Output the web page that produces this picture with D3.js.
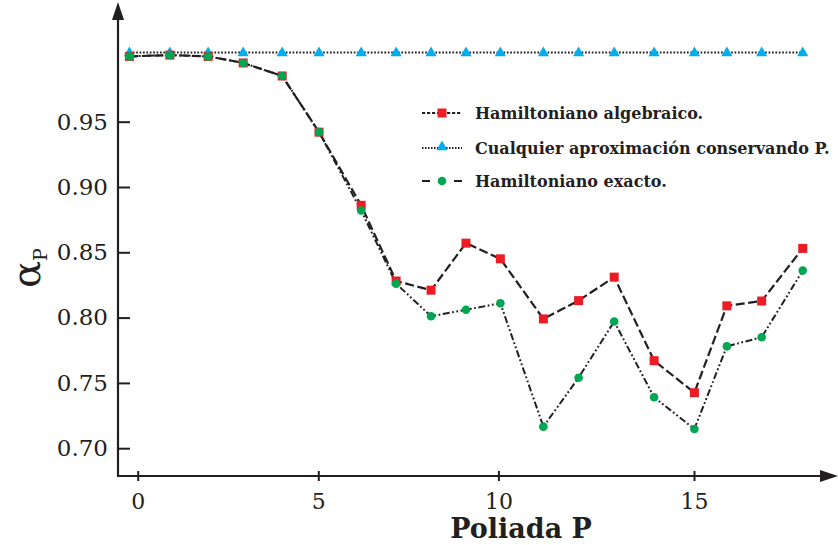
<!DOCTYPE html>
<html>
<head>
<meta charset="utf-8">
<script src="https://cdn.jsdelivr.net/npm/d3@7"></script>
<style>
  html, body { margin: 0; padding: 0; background: #fff; }
  svg { display: block; font-family: "DejaVu Serif", serif; }
</style>
</head>
<body>
<div id="chart"></div>
<script>
// Poliada P (positions)
const polyadP = [-0.23, 0.89, 1.95, 2.92, 4.0, 5.02, 6.19, 7.16, 8.13, 9.10, 10.05,
                 11.15, 12.05, 12.96, 13.98, 15.01, 15.84, 16.73, 17.78];
const alphaAlgebraic = [1.000, 1.001, 1.000, 0.995, 0.985, 0.942, 0.886, 0.828, 0.821, 0.857,
                        0.845, 0.799, 0.813, 0.831, 0.767, 0.7425, 0.809, 0.8127, 0.853];
const alphaConserving = polyadP.map(() => 1.003);
const alphaExact = [1.000, 1.001, 1.000, 0.995, 0.985, 0.942, 0.882, 0.826, 0.801, 0.806,
                    0.811, 0.7165, 0.754, 0.797, 0.739, 0.7147, 0.778, 0.785, 0.836];
const xTicks = [0, 5, 10, 15];
const yTicks = [0.70, 0.75, 0.80, 0.85, 0.90, 0.95];
const legendLabels = ['Hamiltoniano algebraico.', 'Cualquier aproximación conservando P.', 'Hamiltoniano exacto.'];

const W = 838, H = 545;
const ink = '#231f20';
const RED = '#ed1c24', BLUE = '#00aeef', GREEN = '#00a651';

const svg = d3.select('#chart').append('svg')
  .attr('width', W).attr('height', H)
  .attr('viewBox', `0 0 ${W} ${H}`);

// the printed axis is not quite uniform, so the scale follows its ticks
const x = d3.scaleLinear().domain([0, 5, 10, 15]).range([137.7, 318.3, 498.4, 694]);
const y = d3.scaleLinear().domain([0.70, 0.95]).range([448.2, 121.7]);

const axisX0 = 118, axisY0 = 476;

// axes
const gx = svg.append('g').attr('transform', `translate(0,${axisY0})`)
  .call(d3.axisBottom(x).tickValues(xTicks).tickSize(5).tickPadding(12).tickFormat(d3.format('d')));
gx.select('.domain').remove();
gx.selectAll('.tick line').attr('y1', -5).attr('stroke', ink).attr('stroke-width', 2);
gx.selectAll('.tick text').attr('font-size', 22).attr('fill', ink).attr('font-family', '"DejaVu Serif", serif');

const gy = svg.append('g').attr('transform', `translate(${axisX0},0)`)
  .call(d3.axisLeft(y).tickValues(yTicks).tickSizeInner(-12).tickSizeOuter(0).tickPadding(10).tickFormat(d3.format('.2f')));
gy.select('.domain').remove();
gy.selectAll('.tick line').attr('stroke', ink).attr('stroke-width', 2);
gy.selectAll('.tick text').attr('font-size', 23).attr('fill', ink).attr('font-family', '"DejaVu Serif", serif');

svg.append('path')
  .attr('d', `M${axisX0},${axisY0}V16M${axisX0 - 1},${axisY0}H826`)
  .attr('fill', 'none').attr('stroke', ink).attr('stroke-width', 2.2);
svg.append('path').attr('d', `M${axisX0},2L${axisX0 - 6},20L${axisX0 + 6},20Z`).attr('fill', ink);
svg.append('path').attr('d', `M838,${axisY0}L820,${axisY0 - 6}L820,${axisY0 + 6}Z`).attr('fill', ink);

// axis titles
svg.append('text')
  .attr('x', 521).attr('y', 538)
  .attr('text-anchor', 'middle')
  .attr('font-size', 27).attr('font-weight', 'bold').attr('fill', ink)
  .text('Poliada P');

const yt = svg.append('text')
  .attr('transform', 'translate(40,268) rotate(-90)')
  .attr('text-anchor', 'middle').attr('fill', ink);
yt.append('tspan').attr('font-size', 40).text('α');
yt.append('tspan').attr('font-size', 19).attr('dy', 7).text('P');

// series
const pts = ys => polyadP.map((p, i) => [x(p), y(ys[i])]);
const line = d3.line();

svg.append('path').attr('d', line(pts(alphaConserving)))
  .attr('fill', 'none').attr('stroke', ink).attr('stroke-width', 1.8).attr('stroke-dasharray', '1.7,1.7');
svg.append('path').attr('d', line(pts(alphaAlgebraic)))
  .attr('fill', 'none').attr('stroke', ink).attr('stroke-width', 2.2).attr('stroke-dasharray', '9,3.5');
svg.append('path').attr('d', line(pts(alphaExact)))
  .attr('fill', 'none').attr('stroke', ink).attr('stroke-width', 2).attr('stroke-dasharray', '7,2.5,1.8,2.5,1.8,2.5');

const tri = d3.symbol().type(d3.symbolTriangle).size(55);
svg.append('g').selectAll('path').data(pts(alphaConserving)).join('path')
  .attr('transform', d => `translate(${d[0]},${d[1] + 0.5})`)
  .attr('d', tri).attr('fill', BLUE);

svg.append('g').selectAll('rect').data(pts(alphaAlgebraic)).join('rect')
  .attr('x', d => d[0] - 4.5).attr('y', d => d[1] - 4.5)
  .attr('width', 9).attr('height', 9).attr('fill', RED);

svg.append('g').selectAll('circle').data(pts(alphaExact)).join('circle')
  .attr('cx', d => d[0]).attr('cy', d => d[1]).attr('r', 4.3).attr('fill', GREEN);

// legend
const lg = svg.append('g').attr('transform', 'translate(422,0)');
const rowsY = [113, 148, 181];
const dashes = ['3.2,1.8', '1.5,1.5', '8,24'];
lg.selectAll('line').data(rowsY).join('line')
  .attr('x1', 0).attr('x2', 40).attr('y1', d => d).attr('y2', d => d)
  .attr('stroke', ink).attr('stroke-width', 2)
  .attr('stroke-dasharray', (d, i) => dashes[i]);
lg.append('rect').attr('x', 20 - 4.5).attr('y', rowsY[0] - 4.5).attr('width', 9).attr('height', 9).attr('fill', RED);
lg.append('path').attr('transform', `translate(20,${rowsY[1] - 1})`).attr('d', tri).attr('fill', BLUE);
lg.append('circle').attr('cx', 20).attr('cy', rowsY[2]).attr('r', 4.3).attr('fill', GREEN);
lg.selectAll('text').data(legendLabels).join('text')
  .attr('x', 53).attr('y', (d, i) => rowsY[i] + 6)
  .attr('font-size', 16).attr('font-weight', 'bold').attr('fill', ink)
  .text(d => d);
</script>
</body>
</html>
